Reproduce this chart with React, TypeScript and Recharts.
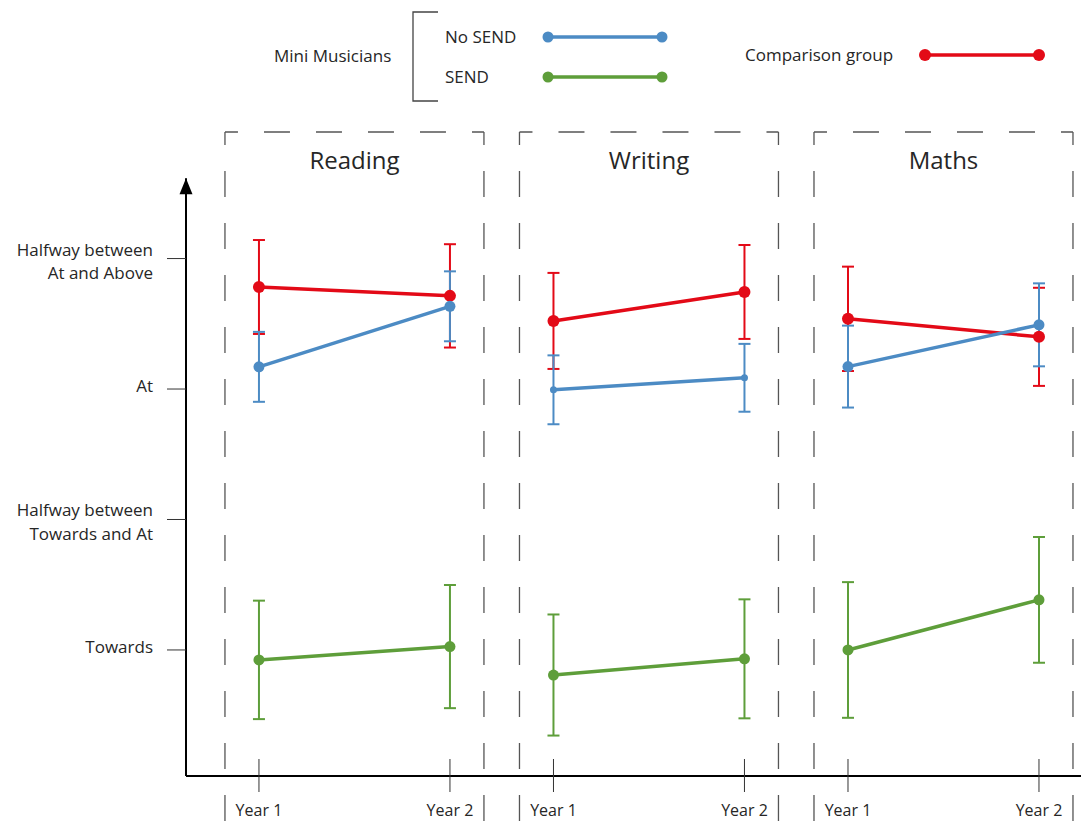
import { LineChart, Line, XAxis, YAxis, ErrorBar, ReferenceLine, ReferenceDot } from "recharts";

const subjects = ["Reading", "Writing", "Maths"];
const years = ["Year 1", "Year 2"];

const yTickValues = [1, 1.5, 2, 2.5];
const yTickLabels = [
  ["Towards"],
  ["Halfway between", "Towards and At"],
  ["At"],
  ["Halfway between", "At and Above"],
];

// one pair per subject: [Year 1, Year 2]
const comparisonMeans = [[2.391, 2.357], [2.261, 2.372], [2.269, 2.2]];
const comparisonErr = [[0.18, 0.198], [0.184, 0.18], [0.2, 0.188]];
const noSendMeans = [[2.085, 2.317], [1.997, 2.043], [2.086, 2.246]];
const noSendErr = [[0.134, 0.134], [0.132, 0.13], [0.157, 0.159]];
const sendMeans = [[0.962, 1.013], [0.904, 0.966], [1.0, 1.192]];
const sendErr = [[0.227, 0.236], [0.232, 0.228], [0.26, 0.241]];

const RED = "#E30A17";
const BLUE = "#4C8BC4";
const GREEN = "#5E9E3A";
const FONT = "'Open Sans', sans-serif";
const TEXT = "#262626";

// layout of the numeric x axis: one unit = distance Year 1 -> Year 2
const PANEL_STEP = 1.542;
const BOX_PAD = 0.178;
const X_MIN = -0.382;
const X_MAX = 4.304;
const Y_MIN = 0.517;
const Y_MAX = 2.985;
const Y_ARROW = 2.808;
const Y_TITLE = 2.874;
const Y_BELOW = 0.2;

const noSendDotR = [5.5, 3.5, 5.5];

const rows = subjects.map((_, i) =>
  years.map((year, j) => ({
    x: i * PANEL_STEP + j,
    year,
    comp: comparisonMeans[i][j],
    compErr: comparisonErr[i][j],
    noSend: noSendMeans[i][j],
    noSendErr: noSendErr[i][j],
    send: sendMeans[i][j],
    sendErr: sendErr[i][j],
  }))
);

const xTicks = rows.flat().map((r) => r.x);

const YTick = (props: any) => {
  const { x, y, payload } = props;
  const idx = yTickValues.indexOf(payload.value);
  const lines = yTickLabels[idx] ?? [];
  const start = lines.length > 1 ? -3 : 3;
  return (
    <text x={x} y={y} textAnchor="end" fill={TEXT} fontSize={17} fontFamily={FONT}>
      {lines.map((l, k) => (
        <tspan key={k} x={x} dy={k === 0 ? start : 23.5}>
          {l}
        </tspan>
      ))}
    </text>
  );
};

const XTick = (props: any) => {
  const { x, y, payload } = props;
  const idx = xTicks.findIndex((v) => Math.abs(v - payload.value) < 1e-6);
  return (
    <g>
      <line x1={x} x2={x} y1={y - 17} y2={y + 16} stroke="#333" strokeWidth={1} />
      <text x={x} y={y + 40} textAnchor="middle" fill={TEXT} fontSize={16} fontFamily={FONT}>
        {years[(idx < 0 ? 0 : idx) % 2]}
      </text>
    </g>
  );
};

const dashStyle = { stroke: "#555", strokeWidth: 1.3, strokeDasharray: "26 26", strokeDashoffset: 13 };

const LegendOverlay = () => (
  <svg
    width={1081}
    height={120}
    style={{ position: "absolute", left: 0, top: 0, pointerEvents: "none" }}
    fontFamily={FONT}
    fontSize={17}
    fill={TEXT}
  >
    <text x={274} y={62}>Mini Musicians</text>
    <path d="M438,12 H413 V101 H438" fill="none" stroke="#444" strokeWidth={1.3} />
    <text x={445} y={43}>No SEND</text>
    <text x={445} y={83}>SEND</text>
    <line x1={548} x2={662} y1={37} y2={37} stroke={BLUE} strokeWidth={3.5} />
    <circle cx={548} cy={37} r={5.5} fill={BLUE} />
    <circle cx={662} cy={37} r={5.5} fill={BLUE} />
    <line x1={548} x2={662} y1={77} y2={77} stroke={GREEN} strokeWidth={3.5} />
    <circle cx={548} cy={77} r={5.5} fill={GREEN} />
    <circle cx={662} cy={77} r={5.5} fill={GREEN} />
    <text x={745} y={61}>Comparison group</text>
    <line x1={925} x2={1039} y1={55} y2={55} stroke={RED} strokeWidth={3.5} />
    <circle cx={925} cy={55} r={6} fill={RED} />
    <circle cx={1039} cy={55} r={6} fill={RED} />
  </svg>
);

const App = () => {
  return (
    <div style={{ position: "absolute", left: 0, top: 0, width: 1081, height: 831, background: "#fff" }}>
      <LineChart width={1081} height={831} margin={{ top: 132, right: 0, bottom: 0, left: 0 }}>
        <XAxis
          dataKey="x"
          type="number"
          domain={[X_MIN, X_MAX]}
          ticks={xTicks}
          interval={0}
          allowDataOverflow
          axisLine={{ stroke: "#000", strokeWidth: 2 }}
          tickLine={false}
          tickSize={0}
          tickMargin={0}
          height={55}
          tick={<XTick />}
        />
        <YAxis
          type="number"
          domain={[Y_MIN, Y_MAX]}
          ticks={yTickValues}
          allowDataOverflow
          axisLine={false}
          tickLine={{ stroke: "#333", strokeWidth: 1 }}
          tickSize={19}
          tickMargin={14}
          width={186}
          tick={<YTick />}
        />

        {subjects.map((s, i) => {
          const left = i * PANEL_STEP - BOX_PAD;
          const right = i * PANEL_STEP + 1 + BOX_PAD;
          return [
            <ReferenceLine
              key={`top-${s}`}
              segment={[{ x: left, y: Y_MAX }, { x: right, y: Y_MAX }]}
              ifOverflow="visible"
              {...dashStyle}
            />,
            <ReferenceLine
              key={`left-${s}`}
              segment={[{ x: left, y: Y_MAX }, { x: left, y: Y_BELOW }]}
              ifOverflow="visible"
              {...dashStyle}
            />,
            <ReferenceLine
              key={`right-${s}`}
              segment={[{ x: right, y: Y_MAX }, { x: right, y: Y_BELOW }]}
              ifOverflow="visible"
              {...dashStyle}
            />,
            <ReferenceDot
              key={`title-${s}`}
              x={i * PANEL_STEP + 0.5}
              y={Y_TITLE}
              ifOverflow="visible"
              shape={(p: any) => (
                <text x={p.cx} y={p.cy + 8} textAnchor="middle" fill={TEXT} fontSize={24} fontFamily={FONT}>
                  {s}
                </text>
              )}
            />,
          ];
        })}

        <ReferenceLine
          segment={[{ x: X_MIN, y: Y_MIN }, { x: X_MIN, y: Y_ARROW }]}
          ifOverflow="visible"
          stroke="#000"
          strokeWidth={2}
        />
        <ReferenceDot
          x={X_MIN}
          y={Y_ARROW}
          ifOverflow="visible"
          shape={(p: any) => <path d={`M${p.cx},${p.cy} l-6.5,16 l13,0 z`} fill="#000" />}
        />

        {rows.map((data, i) => [
          <Line
            key={`comp-${i}`}
            data={data}
            dataKey="comp"
            type="linear"
            stroke={RED}
            strokeWidth={3.5}
            dot={{ r: 6, fill: RED, stroke: RED, strokeWidth: 0 }}
            activeDot={false}
            isAnimationActive={false}
          >
            <ErrorBar dataKey="compErr" direction="y" width={6} stroke={RED} strokeWidth={2} />
          </Line>,
          <Line
            key={`nosend-${i}`}
            data={data}
            dataKey="noSend"
            type="linear"
            stroke={BLUE}
            strokeWidth={3.5}
            dot={{ r: noSendDotR[i], fill: BLUE, stroke: BLUE, strokeWidth: 0 }}
            activeDot={false}
            isAnimationActive={false}
          >
            <ErrorBar dataKey="noSendErr" direction="y" width={6} stroke={BLUE} strokeWidth={2} />
          </Line>,
          <Line
            key={`send-${i}`}
            data={data}
            dataKey="send"
            type="linear"
            stroke={GREEN}
            strokeWidth={3.5}
            dot={{ r: 5.5, fill: GREEN, stroke: GREEN, strokeWidth: 0 }}
            activeDot={false}
            isAnimationActive={false}
          >
            <ErrorBar dataKey="sendErr" direction="y" width={6} stroke={GREEN} strokeWidth={2} />
          </Line>,
        ])}
      </LineChart>
      <LegendOverlay />
    </div>
  );
};

export default App;
